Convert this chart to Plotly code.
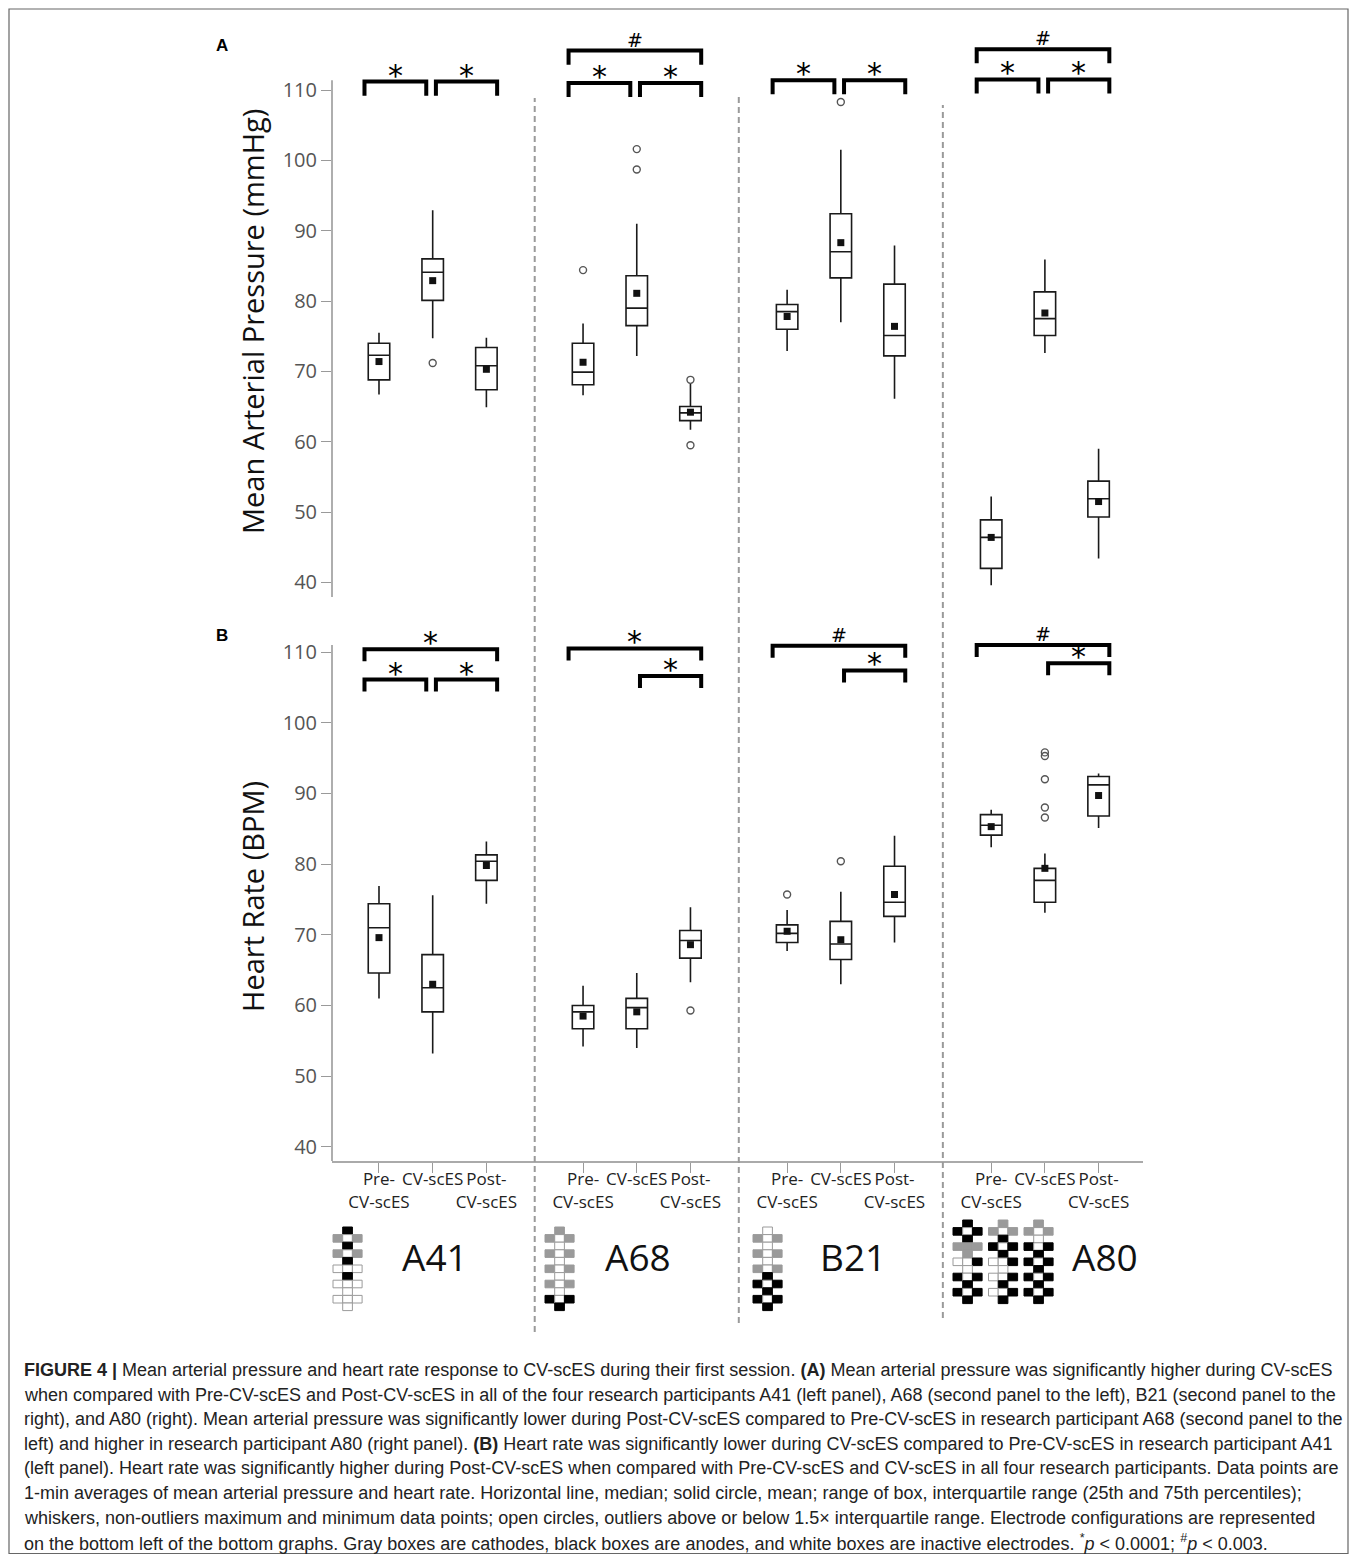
import plotly.graph_objects as go

# ---------------------------------------------------------------- data
participants = ["A41", "A68", "B21", "A80"]
conditions = ["Pre-CV-scES", "CV-scES", "Post-CV-scES"]
tick_labels = ["Pre-<br>CV-scES", "CV-scES", "Post-<br>CV-scES"]
y_ticks = [40, 50, 60, 70, 80, 90, 100, 110]

# Mean arterial pressure (mmHg), order: A41 pre/cv/post, A68 ..., B21 ..., A80 ...
map_lowerfence = [66.7, 74.7, 64.9, 66.6, 72.2, 61.7, 72.9, 77.0, 66.1, 39.6, 72.6, 43.4]
map_q1 = [68.8, 80.1, 67.4, 68.1, 76.5, 63.0, 76.0, 83.3, 72.2, 42.0, 75.1, 49.3]
map_median = [72.3, 84.1, 70.8, 69.9, 79.0, 64.1, 78.5, 87.0, 75.1, 46.4, 77.5, 51.9]
map_q3 = [74.0, 86.0, 73.4, 74.0, 83.6, 65.0, 79.5, 92.4, 82.4, 48.9, 81.3, 54.4]
map_upperfence = [75.5, 92.9, 74.8, 76.8, 91.0, 68.3, 81.6, 101.5, 87.9, 52.2, 85.9, 59.0]
map_mean = [71.4, 82.9, 70.3, 71.3, 81.1, 64.2, 77.8, 88.3, 76.4, 46.4, 78.3, 51.5]
map_outliers = [[], [71.2], [], [84.4], [101.6, 98.7], [68.8, 59.5], [], [108.3], [], [], [], []]

# Heart rate (BPM)
hr_lowerfence = [61.0, 53.2, 74.4, 54.2, 54.0, 63.3, 67.7, 63.0, 68.9, 82.4, 73.1, 85.1]
hr_q1 = [64.6, 59.1, 77.7, 56.7, 56.7, 66.7, 68.9, 66.5, 72.6, 84.1, 74.6, 86.8]
hr_median = [71.0, 62.5, 80.4, 59.1, 59.7, 69.2, 70.2, 68.7, 74.6, 85.5, 77.7, 91.2]
hr_q3 = [74.4, 67.2, 81.3, 60.0, 61.0, 70.6, 71.4, 71.9, 79.7, 87.0, 79.4, 92.4]
hr_upperfence = [76.9, 75.6, 83.2, 62.8, 64.6, 73.9, 73.5, 76.1, 84.0, 87.7, 81.5, 92.8]
hr_mean = [69.6, 63.0, 79.8, 58.5, 59.1, 68.6, 70.5, 69.3, 75.7, 85.3, 79.4, 89.7]
hr_outliers = [[], [], [], [], [], [59.3], [75.7], [80.4], [], [], [95.8, 95.3, 92.0, 88.0, 86.6], []]

# significance brackets: (participant, from condition, to condition, bracket level, symbol)
map_brackets = [
    (0, 0, 1, 111.2, "*"), (0, 1, 2, 111.2, "*"),
    (1, 0, 2, 115.6, "#"), (1, 0, 1, 111.0, "*"), (1, 1, 2, 111.0, "*"),
    (2, 0, 1, 111.4, "*"), (2, 1, 2, 111.4, "*"),
    (3, 0, 2, 115.8, "#"), (3, 0, 1, 111.5, "*"), (3, 1, 2, 111.5, "*"),
]
hr_brackets = [
    (0, 0, 2, 110.4, "*"), (0, 0, 1, 106.1, "*"), (0, 1, 2, 106.1, "*"),
    (1, 0, 2, 110.5, "*"), (1, 1, 2, 106.6, "*"),
    (2, 0, 2, 110.9, "#"), (2, 1, 2, 107.4, "*"),
    (3, 0, 2, 111.0, "#"), (3, 1, 2, 108.4, "*"),
]

# electrode configurations (rows top->bottom; left/centre/right)
# B = anode (black), G = cathode (gray), W = inactive (white), ' ' = none
electrodes = {
    "A41": [[" B ", "GWG", " B ", "GWG", " B ", "WWW", " B ", "WWW", " W ", "WWW", " W "]],
    "A68": [[" G ", "GWG", " W ", "GWG", " W ", "GWG", " W ", "GWG", " W ", "BWB", " B "]],
    "B21": [[" W ", "GWG", " W ", "GWG", " W ", "GWG", " B ", "BWB", " B ", "BWB", " B "]],
    "A80": [[" B ", "BWB", " B ", "GGG", " G ", "WWB", " W ", "BWB", " B ", "BWB", " B "],
            [" G ", "GWG", " B ", "BWB", " B ", "WWB", " W ", "WWB", " B ", "WWB", " B "],
            [" G ", "GWG", " W ", "BWB", " B ", "BWB", " B ", "BWB", " B ", "BWB", " B "]],
}

caption_lines = [
    "<b>FIGURE 4 |</b> Mean arterial pressure and heart rate response to CV-scES during their first session. <b>(A)</b> Mean arterial pressure was significantly higher during CV-scES",
    "when compared with Pre-CV-scES and Post-CV-scES in all of the four research participants A41 (left panel), A68 (second panel to the left), B21 (second panel to the",
    "right), and A80 (right). Mean arterial pressure was significantly lower during Post-CV-scES compared to Pre-CV-scES in research participant A68 (second panel to the",
    "left) and higher in research participant A80 (right panel). <b>(B)</b> Heart rate was significantly lower during CV-scES compared to Pre-CV-scES in research participant A41",
    "(left panel). Heart rate was significantly higher during Post-CV-scES when compared with Pre-CV-scES and CV-scES in all four research participants. Data points are",
    "1-min averages of mean arterial pressure and heart rate. Horizontal line, median; solid circle, mean; range of box, interquartile range (25th and 75th percentiles);",
    "whiskers, non-outliers maximum and minimum data points; open circles, outliers above or below 1.5× interquartile range. Electrode configurations are represented",
    "on the bottom left of the bottom graphs. Gray boxes are cathodes, black boxes are anodes, and white boxes are inactive electrodes. <sup>*</sup><i>p</i> &lt; 0.0001; <sup>#</sup><i>p</i> &lt; 0.003.",
]

# ---------------------------------------------------------------- layout geometry
# the page body has an 8px margin; the figure is sized so page + margins = window
PAGE_OFF = 8
W, H = 1357 - 2 * PAGE_OFF, 1562 - 2 * PAGE_OFF
PLOT_L, PLOT_R, PLOT_T, PLOT_B = 332, 1143, 30, 1161          # page pixels
ML, MR = PLOT_L - PAGE_OFF, W - (PLOT_R - PAGE_OFF)
MT, MB = PLOT_T - PAGE_OFF, H - (PLOT_B - PAGE_OFF)
PW, PH = PLOT_R - PLOT_L, PLOT_B - PLOT_T
GROUP_STEP = 3.8
X_RANGE = [-0.875, 14.227]
YA_RANGE = [37.93, 118.53]
YB_RANGE = [38.0, 114.53]
YA_DOMAIN = [(PLOT_B - 597) / PH, 1.0]
YB_DOMAIN = [0.0, (PLOT_B - 620) / PH]


def px_x(px):
    return (px - PLOT_L) / PW


def px_y(py):
    return (PLOT_B - py) / PH


positions = [g * GROUP_STEP + c for g in range(len(participants)) for c in range(len(conditions))]

fig = go.Figure()
shapes = []
annotations = []


def add_panel(xa, ya, lo, q1, med, q3, hi, mean, outl, brackets, leg):
    fig.add_trace(go.Box(
        x=positions, q1=q1, median=med, q3=q3, lowerfence=lo, upperfence=hi,
        width=0.4, whiskerwidth=0, fillcolor="white",
        line=dict(color="#1a1a1a", width=1.6), boxpoints=False,
        xaxis=xa, yaxis=ya, showlegend=False, hoverinfo="skip"))
    fig.add_trace(go.Scatter(
        x=positions, y=mean, mode="markers", xaxis=xa, yaxis=ya,
        marker=dict(symbol="square", size=7, color="#111"),
        showlegend=False, hoverinfo="skip"))
    ox, oy = [], []
    for p, vals in zip(positions, outl):
        for v in vals:
            ox.append(p)
            oy.append(v)
    fig.add_trace(go.Scatter(
        x=ox, y=oy, mode="markers", xaxis=xa, yaxis=ya,
        marker=dict(symbol="circle-open", size=7, color="#555", line=dict(width=1.4)),
        showlegend=False, hoverinfo="skip"))
    for g, c0, c1, level, sym in brackets:
        p0 = g * GROUP_STEP + c0
        p1 = g * GROUP_STEP + c1
        x0 = p0 - 0.27 if c0 == 0 else p0 + 0.06
        x1 = p1 + 0.2 if c1 == 2 else p1 - 0.12
        shapes.append(dict(
            type="path", xref=xa, yref=ya,
            path=f"M {x0},{level - leg} L {x0},{level} L {x1},{level} L {x1},{level - leg}",
            line=dict(color="black", width=4)))
        annotations.append(dict(
            x=(x0 + x1) / 2, y=level, xref=xa, yref=ya, text=sym, showarrow=False,
            yanchor="bottom", yshift=-2 if sym == "#" else -13,
            font=dict(family="DejaVu Sans", size=30 if sym == "*" else 19, color="black")))


add_panel("x2", "y2", map_lowerfence, map_q1, map_median, map_q3, map_upperfence,
          map_mean, map_outliers, map_brackets, 2.0)
add_panel("x", "y", hr_lowerfence, hr_q1, hr_median, hr_q3, hr_upperfence,
          hr_mean, hr_outliers, hr_brackets, 1.7)

# y axis lines (drawn manually so they stop at the tick range)
shapes.append(dict(type="line", xref="paper", yref="y2", x0=0, x1=0, y0=YA_RANGE[0], y1=111.4,
                   line=dict(color="#9a9a9a", width=1.6)))
shapes.append(dict(type="line", xref="paper", yref="y", x0=0, x1=0, y0=YB_RANGE[0], y1=111.0,
                   line=dict(color="#9a9a9a", width=1.6)))

# dashed separators between participants
sep_extent = [(98, 1332), (97, 1323), (105, 1318)]
for g, (top, bottom) in enumerate(sep_extent):
    xs = g * GROUP_STEP + 2 + (GROUP_STEP - 2) / 2
    shapes.append(dict(type="line", xref="x", yref="paper", x0=xs, x1=xs,
                       y0=px_y(bottom), y1=px_y(top),
                       line=dict(color="#9a9a9a", width=2, dash="6px,4px")))

# electrode icons
icon_left = {"A41": [333], "A68": [545], "B21": [753], "A80": [953, 988.5, 1024]}
icon_top = {"A41": 1227, "A68": 1227, "B21": 1227, "A80": 1220}
CW, CH = 9.7, 7.6
fills = {"B": ("#000000", "#000000"), "G": ("#9a9a9a", "#9a9a9a"), "W": ("#ffffff", "#9a9a9a")}
for name, configs in electrodes.items():
    for k, rows in enumerate(configs):
        left = icon_left[name][k]
        top = icon_top[name]
        for r, row in enumerate(rows):
            for c, code in enumerate(row):
                if code == " ":
                    continue
                fc, lc = fills[code]
                x0 = left + c * CW
                y0 = top + r * CH
                shapes.append(dict(type="rect", xref="paper", yref="paper",
                                   x0=px_x(x0), x1=px_x(x0 + CW), y0=px_y(y0 + CH), y1=px_y(y0),
                                   fillcolor=fc, line=dict(color=lc, width=1)))

# participant labels
label_x = [435, 638, 853, 1105]
for name, lx in zip(participants, label_x):
    annotations.append(dict(x=px_x(lx), y=px_y(1256), xref="paper", yref="paper", text=name,
                            showarrow=False, xanchor="center", yanchor="middle",
                            font=dict(family="Open Sans", size=37, color="#111")))

# panel letters
for letter, py in (("A", 45), ("B", 636)):
    annotations.append(dict(x=px_x(222), y=px_y(py), xref="paper", yref="paper", text=f"<b>{letter}</b>",
                            showarrow=False, xanchor="center", yanchor="middle",
                            font=dict(family="Liberation Sans", size=17, color="black")))

# y axis titles
for title, py in (("Mean Arterial Pressure (mmHg)", 322), ("Heart Rate (BPM)", 897)):
    annotations.append(dict(x=px_x(252), y=px_y(py), xref="paper", yref="paper", text=title,
                            textangle=-90, showarrow=False, xanchor="center", yanchor="middle",
                            font=dict(family="Open Sans", size=29, color="#111")))

# caption
for i, line in enumerate(caption_lines):
    annotations.append(dict(x=px_x(22), y=px_y(1370 + i * 24.6), xref="paper", yref="paper", text=line,
                            showarrow=False, xanchor="left", yanchor="middle",
                            font=dict(family="Liberation Sans", size=18, color="#222")))

# outer frame
shapes.append(dict(type="rect", xref="paper", yref="paper", x0=px_x(9), x1=px_x(1348),
                   y0=px_y(1553.5), y1=px_y(9), line=dict(color="#666", width=1.2)))

yaxis_common = dict(tickvals=y_ticks, ticks="outside", ticklen=10, tickwidth=1.2, tickcolor="#9a9a9a",
                    showgrid=False, zeroline=False, showline=False,
                    tickfont=dict(family="Open Sans", size=20, color="#555"))

fig.update_layout(
    width=W, height=H, margin=dict(l=ML, r=MR, t=MT, b=MB, autoexpand=False),
    plot_bgcolor="white", paper_bgcolor="white", showlegend=False,
    xaxis=dict(domain=[0, 1], anchor="y", range=X_RANGE, tickvals=positions,
               ticktext=tick_labels * len(participants), tickangle=0, ticks="outside", ticklen=10,
               ticklabelstandoff=-8,
               tickcolor="#9a9a9a", showline=True, linecolor="#aaaaaa", linewidth=2,
               showgrid=False, zeroline=False,
               tickfont=dict(family="Open Sans", size=17, color="#222")),
    xaxis2=dict(domain=[0, 1], anchor="y2", range=X_RANGE, visible=False),
    yaxis=dict(domain=YB_DOMAIN, anchor="x", range=YB_RANGE, **yaxis_common),
    yaxis2=dict(domain=YA_DOMAIN, anchor="x2", range=YA_RANGE, **yaxis_common),
    shapes=shapes, annotations=annotations,
)

fig.write_html("out.html")
